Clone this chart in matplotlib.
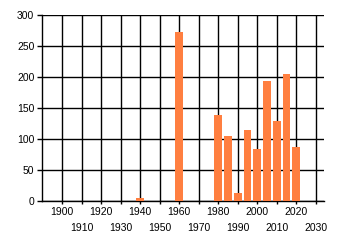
import matplotlib
matplotlib.use("Agg")
import matplotlib.pyplot as plt
import numpy as np

# bar data
years = [1940, 1960, 1980, 1985, 1990, 1995, 2000, 2005, 2010, 2015, 2020]
counts = [5, 272, 139, 105, 13, 115, 84, 194, 129, 205, 87]

major_years = list(range(1900, 2030, 20))   # first label row
minor_years = list(range(1910, 2040, 20))   # second label row
y_ticks = [0, 50, 100, 150, 200, 250, 300]

plt.rcParams['font.family'] = 'Liberation Sans'
plt.rcParams['font.size'] = 7.5

fig = plt.figure(figsize=(3.4, 2.45), dpi=100)
ax = fig.add_axes([0.1235, 0.1796, 0.954 - 0.1235, 0.9388 - 0.1796])

ax.bar(years, counts, width=4, color='#ff7f40', edgecolor='none', zorder=3)

ax.set_xlim(1889.6, 2034.4)
ax.set_ylim(0, 300)

ax.set_xticks(major_years)
ax.set_xticklabels([str(y) for y in major_years])
ax.set_xticks(minor_years, minor=True)
ax.set_xticklabels([str(y) for y in minor_years], minor=True)
ax.set_yticks(y_ticks)

ax.tick_params(axis='x', which='major', length=2, width=1, pad=2.5, colors='black')
ax.tick_params(axis='x', which='minor', length=2, width=1, pad=14, colors='black')
ax.tick_params(axis='y', length=3.5, width=1, pad=2, colors='black')

ax.grid(True, which='both', color='black', linewidth=1, zorder=1)

for side in ['top', 'right']:
    ax.spines[side].set_visible(False)
ax.spines['left'].set_linewidth(1)
ax.spines['bottom'].set_linewidth(1)

fig.savefig('out.png', dpi=100)
